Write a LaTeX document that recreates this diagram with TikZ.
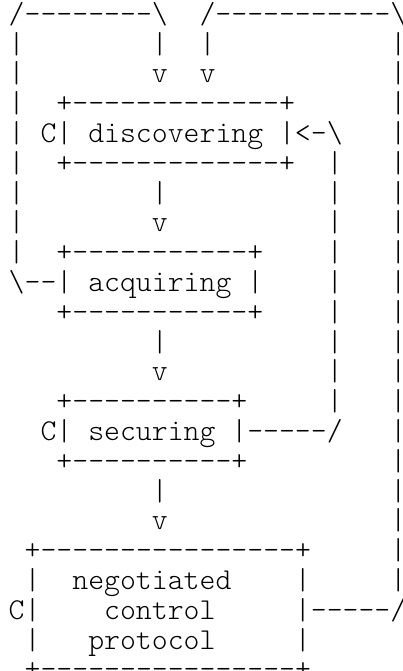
\documentclass[tikz,border=0pt]{standalone}

\newcommand{\dashrun}[1]{\foreach \k in {1,...,#1}{-}}
\newcommand{\bs}{\textbackslash}

\tikzset{
  ascii/.style={anchor=base west, inner sep=0pt, outer sep=0pt,
    font=\fontsize{30.3}{29.8}\fontseries{l}\ttfamily\selectfont}
}

\begin{document}
\begin{tikzpicture}[x=15.9pt, y=-29.8pt, every node/.style={ascii}]
  \useasboundingbox (-8.75pt,23.3pt) rectangle (393.25pt,-647.7pt);
  % loop back from acquiring, entering discovering at col 9
  \node (loopl-top) at (0,0) {/\dashrun{8}\bs};
  \foreach \r in {1,...,8}
    \node (loopl-\r) at (0,\r) {|};
  \node (loopl-end) at (0,9) {\bs\dashrun{2}};
  \node (in-l) at (9,1) {|};
  \node (in-l-v) at (9,2) {v};
  % loop back from the protocol box, entering at col 12
  \node (loopr-top) at (12,0) {/\dashrun{11}\bs};
  \node (in-r) at (12,1) {|};
  \node (in-r-v) at (12,2) {v};
  \foreach \r in {1,...,19}
    \node (loopr-\r) at (24,\r) {|};
  \node (loopr-end) at (19,20) {\dashrun{5}/};
  % securing back into discovering
  \node (back-head) at (18,4) {<-\bs};
  \foreach \r in {5,...,13}
    \node (back-\r) at (20,\r) {|};
  \node (back-end) at (15,14) {\dashrun{5}/};

  % discovering
  \node (disc-top) at (3,3) {+\dashrun{13}+};
  \node (disc) at (3,4) {| discovering |};
  \node (disc-bot) at (3,5) {+\dashrun{13}+};
  \node (disc-c) at (2,4) {C};
  % acquiring
  \node (acq-top) at (3,8) {+\dashrun{11}+};
  \node (acq) at (3,9) {| acquiring |};
  \node (acq-bot) at (3,10) {+\dashrun{11}+};
  % securing
  \node (sec-top) at (3,13) {+\dashrun{10}+};
  \node (sec) at (3,14) {| securing |};
  \node (sec-bot) at (3,15) {+\dashrun{10}+};
  \node (sec-c) at (2,14) {C};
  % negotiated control protocol
  \node (ncp-top) at (1,18) {+\dashrun{16}+};
  \foreach \r in {19,20,21} {
    \node (ncp-l\r) at (1,\r) {|};
    \node (ncp-r\r) at (18,\r) {|};
  }
  \node (ncp-1) at (4,19) {negotiated};
  \node (ncp-2) at (6,20) {control};
  \node (ncp-3) at (5,21) {protocol};
  \node (ncp-bot) at (1,22) {+\dashrun{16}+};
  \node (ncp-c) at (0,20) {C};

  % arrows down the chain
  \foreach \r in {6,11,16} {
    \node (down-\r) at (9,\r) {|};
    \node (down-v\r) at (9,\r+1) {v};
  }
\end{tikzpicture}
\end{document}
